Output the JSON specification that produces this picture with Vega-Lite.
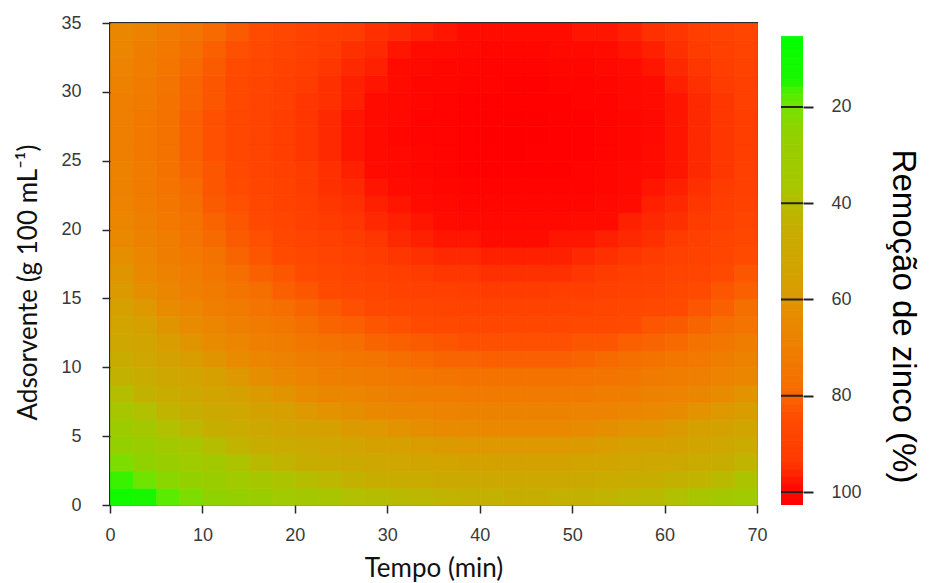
{
  "$schema": "https://vega.github.io/schema/vega-lite/v6.json",
  "background": "white",
  "padding": {"left": 14, "top": 13, "right": 5, "bottom": 5},
  "bounds": "flush",
  "spacing": 24,
  "config": {
    "view": {"stroke": null},
    "axis": {
      "grid": false,
      "domain": false,
      "tickColor": "#2a2a2a",
      "tickWidth": 1.5,
      "labelFont": "Liberation Sans",
      "labelFontSize": 18,
      "labelColor": "#3a3a3a",
      "labelFlush": false,
      "labelOverlap": false,
      "titleFont": "Lato",
      "titleFontSize": 26,
      "titleFontWeight": "normal",
      "titleColor": "#111111"
    }
  },
  "hconcat": [
    {
      "width": 647,
      "height": 482,
      "view": {"stroke": "#2a2a2a", "strokeWidth": 2},
      "data": {"values": [
{"t":0,"a":0,"r":10},{"t":2.5,"a":0,"r":14},{"t":5,"a":0,"r":17},{"t":7.5,"a":0,"r":21},{"t":10,"a":0,"r":24},{"t":12.5,"a":0,"r":27},{"t":15,"a":0,"r":29},{"t":17.5,"a":0,"r":32},{"t":20,"a":0,"r":34},{"t":22.5,"a":0,"r":36},{"t":25,"a":0,"r":38},{"t":27.5,"a":0,"r":39},{"t":30,"a":0,"r":40},{"t":32.5,"a":0,"r":41},{"t":35,"a":0,"r":42},{"t":37.5,"a":0,"r":43},{"t":40,"a":0,"r":43},{"t":42.5,"a":0,"r":44},{"t":45,"a":0,"r":44},{"t":47.5,"a":0,"r":43},{"t":50,"a":0,"r":43},{"t":52.5,"a":0,"r":42},{"t":55,"a":0,"r":41},{"t":57.5,"a":0,"r":40},{"t":60,"a":0,"r":38},{"t":62.5,"a":0,"r":36},{"t":65,"a":0,"r":34},{"t":67.5,"a":0,"r":32},
{"t":0,"a":1.25,"r":15},{"t":2.5,"a":1.25,"r":19},{"t":5,"a":1.25,"r":23},{"t":7.5,"a":1.25,"r":26},{"t":10,"a":1.25,"r":29},{"t":12.5,"a":1.25,"r":32},{"t":15,"a":1.25,"r":35},{"t":17.5,"a":1.25,"r":37},{"t":20,"a":1.25,"r":39},{"t":22.5,"a":1.25,"r":41},{"t":25,"a":1.25,"r":43},{"t":27.5,"a":1.25,"r":45},{"t":30,"a":1.25,"r":46},{"t":32.5,"a":1.25,"r":47},{"t":35,"a":1.25,"r":48},{"t":37.5,"a":1.25,"r":48},{"t":40,"a":1.25,"r":49},{"t":42.5,"a":1.25,"r":49},{"t":45,"a":1.25,"r":49},{"t":47.5,"a":1.25,"r":49},{"t":50,"a":1.25,"r":48},{"t":52.5,"a":1.25,"r":47},{"t":55,"a":1.25,"r":46},{"t":57.5,"a":1.25,"r":45},{"t":60,"a":1.25,"r":43},{"t":62.5,"a":1.25,"r":42},{"t":65,"a":1.25,"r":40},{"t":67.5,"a":1.25,"r":37},
{"t":0,"a":2.5,"r":21},{"t":2.5,"a":2.5,"r":24},{"t":5,"a":2.5,"r":28},{"t":7.5,"a":2.5,"r":31},{"t":10,"a":2.5,"r":34},{"t":12.5,"a":2.5,"r":37},{"t":15,"a":2.5,"r":40},{"t":17.5,"a":2.5,"r":42},{"t":20,"a":2.5,"r":45},{"t":22.5,"a":2.5,"r":47},{"t":25,"a":2.5,"r":48},{"t":27.5,"a":2.5,"r":50},{"t":30,"a":2.5,"r":51},{"t":32.5,"a":2.5,"r":52},{"t":35,"a":2.5,"r":53},{"t":37.5,"a":2.5,"r":54},{"t":40,"a":2.5,"r":54},{"t":42.5,"a":2.5,"r":54},{"t":45,"a":2.5,"r":54},{"t":47.5,"a":2.5,"r":54},{"t":50,"a":2.5,"r":53},{"t":52.5,"a":2.5,"r":53},{"t":55,"a":2.5,"r":51},{"t":57.5,"a":2.5,"r":50},{"t":60,"a":2.5,"r":49},{"t":62.5,"a":2.5,"r":47},{"t":65,"a":2.5,"r":45},{"t":67.5,"a":2.5,"r":42},
{"t":0,"a":3.75,"r":26},{"t":2.5,"a":3.75,"r":29},{"t":5,"a":3.75,"r":33},{"t":7.5,"a":3.75,"r":36},{"t":10,"a":3.75,"r":39},{"t":12.5,"a":3.75,"r":42},{"t":15,"a":3.75,"r":45},{"t":17.5,"a":3.75,"r":47},{"t":20,"a":3.75,"r":49},{"t":22.5,"a":3.75,"r":51},{"t":25,"a":3.75,"r":53},{"t":27.5,"a":3.75,"r":55},{"t":30,"a":3.75,"r":56},{"t":32.5,"a":3.75,"r":57},{"t":35,"a":3.75,"r":58},{"t":37.5,"a":3.75,"r":59},{"t":40,"a":3.75,"r":59},{"t":42.5,"a":3.75,"r":59},{"t":45,"a":3.75,"r":59},{"t":47.5,"a":3.75,"r":59},{"t":50,"a":3.75,"r":58},{"t":52.5,"a":3.75,"r":57},{"t":55,"a":3.75,"r":56},{"t":57.5,"a":3.75,"r":55},{"t":60,"a":3.75,"r":54},{"t":62.5,"a":3.75,"r":52},{"t":65,"a":3.75,"r":50},{"t":67.5,"a":3.75,"r":47},
{"t":0,"a":5,"r":30},{"t":2.5,"a":5,"r":34},{"t":5,"a":5,"r":38},{"t":7.5,"a":5,"r":41},{"t":10,"a":5,"r":44},{"t":12.5,"a":5,"r":47},{"t":15,"a":5,"r":49},{"t":17.5,"a":5,"r":52},{"t":20,"a":5,"r":54},{"t":22.5,"a":5,"r":56},{"t":25,"a":5,"r":58},{"t":27.5,"a":5,"r":59},{"t":30,"a":5,"r":61},{"t":32.5,"a":5,"r":62},{"t":35,"a":5,"r":63},{"t":37.5,"a":5,"r":63},{"t":40,"a":5,"r":64},{"t":42.5,"a":5,"r":64},{"t":45,"a":5,"r":64},{"t":47.5,"a":5,"r":64},{"t":50,"a":5,"r":63},{"t":52.5,"a":5,"r":62},{"t":55,"a":5,"r":61},{"t":57.5,"a":5,"r":60},{"t":60,"a":5,"r":58},{"t":62.5,"a":5,"r":56},{"t":65,"a":5,"r":54},{"t":67.5,"a":5,"r":52},
{"t":0,"a":6.25,"r":35},{"t":2.5,"a":6.25,"r":38},{"t":5,"a":6.25,"r":42},{"t":7.5,"a":6.25,"r":45},{"t":10,"a":6.25,"r":48},{"t":12.5,"a":6.25,"r":51},{"t":15,"a":6.25,"r":54},{"t":17.5,"a":6.25,"r":56},{"t":20,"a":6.25,"r":59},{"t":22.5,"a":6.25,"r":61},{"t":25,"a":6.25,"r":62},{"t":27.5,"a":6.25,"r":64},{"t":30,"a":6.25,"r":65},{"t":32.5,"a":6.25,"r":66},{"t":35,"a":6.25,"r":67},{"t":37.5,"a":6.25,"r":68},{"t":40,"a":6.25,"r":68},{"t":42.5,"a":6.25,"r":68},{"t":45,"a":6.25,"r":68},{"t":47.5,"a":6.25,"r":68},{"t":50,"a":6.25,"r":67},{"t":52.5,"a":6.25,"r":67},{"t":55,"a":6.25,"r":66},{"t":57.5,"a":6.25,"r":64},{"t":60,"a":6.25,"r":63},{"t":62.5,"a":6.25,"r":61},{"t":65,"a":6.25,"r":59},{"t":67.5,"a":6.25,"r":57},
{"t":0,"a":7.5,"r":39},{"t":2.5,"a":7.5,"r":43},{"t":5,"a":7.5,"r":46},{"t":7.5,"a":7.5,"r":49},{"t":10,"a":7.5,"r":53},{"t":12.5,"a":7.5,"r":55},{"t":15,"a":7.5,"r":58},{"t":17.5,"a":7.5,"r":60},{"t":20,"a":7.5,"r":63},{"t":22.5,"a":7.5,"r":65},{"t":25,"a":7.5,"r":66},{"t":27.5,"a":7.5,"r":68},{"t":30,"a":7.5,"r":69},{"t":32.5,"a":7.5,"r":70},{"t":35,"a":7.5,"r":71},{"t":37.5,"a":7.5,"r":72},{"t":40,"a":7.5,"r":72},{"t":42.5,"a":7.5,"r":72},{"t":45,"a":7.5,"r":72},{"t":47.5,"a":7.5,"r":72},{"t":50,"a":7.5,"r":72},{"t":52.5,"a":7.5,"r":71},{"t":55,"a":7.5,"r":70},{"t":57.5,"a":7.5,"r":68},{"t":60,"a":7.5,"r":67},{"t":62.5,"a":7.5,"r":65},{"t":65,"a":7.5,"r":63},{"t":67.5,"a":7.5,"r":61},
{"t":0,"a":8.75,"r":43},{"t":2.5,"a":8.75,"r":46},{"t":5,"a":8.75,"r":50},{"t":7.5,"a":8.75,"r":53},{"t":10,"a":8.75,"r":56},{"t":12.5,"a":8.75,"r":59},{"t":15,"a":8.75,"r":62},{"t":17.5,"a":8.75,"r":64},{"t":20,"a":8.75,"r":67},{"t":22.5,"a":8.75,"r":69},{"t":25,"a":8.75,"r":70},{"t":27.5,"a":8.75,"r":72},{"t":30,"a":8.75,"r":73},{"t":32.5,"a":8.75,"r":74},{"t":35,"a":8.75,"r":75},{"t":37.5,"a":8.75,"r":76},{"t":40,"a":8.75,"r":76},{"t":42.5,"a":8.75,"r":76},{"t":45,"a":8.75,"r":76},{"t":47.5,"a":8.75,"r":76},{"t":50,"a":8.75,"r":75},{"t":52.5,"a":8.75,"r":75},{"t":55,"a":8.75,"r":74},{"t":57.5,"a":8.75,"r":72},{"t":60,"a":8.75,"r":71},{"t":62.5,"a":8.75,"r":69},{"t":65,"a":8.75,"r":67},{"t":67.5,"a":8.75,"r":65},
{"t":0,"a":10,"r":46},{"t":2.5,"a":10,"r":50},{"t":5,"a":10,"r":54},{"t":7.5,"a":10,"r":57},{"t":10,"a":10,"r":60},{"t":12.5,"a":10,"r":63},{"t":15,"a":10,"r":66},{"t":17.5,"a":10,"r":68},{"t":20,"a":10,"r":70},{"t":22.5,"a":10,"r":72},{"t":25,"a":10,"r":74},{"t":27.5,"a":10,"r":75},{"t":30,"a":10,"r":77},{"t":32.5,"a":10,"r":78},{"t":35,"a":10,"r":79},{"t":37.5,"a":10,"r":79},{"t":40,"a":10,"r":80},{"t":42.5,"a":10,"r":80},{"t":45,"a":10,"r":80},{"t":47.5,"a":10,"r":80},{"t":50,"a":10,"r":79},{"t":52.5,"a":10,"r":78},{"t":55,"a":10,"r":77},{"t":57.5,"a":10,"r":76},{"t":60,"a":10,"r":74},{"t":62.5,"a":10,"r":73},{"t":65,"a":10,"r":70},{"t":67.5,"a":10,"r":68},
{"t":0,"a":11.25,"r":50},{"t":2.5,"a":11.25,"r":53},{"t":5,"a":11.25,"r":57},{"t":7.5,"a":11.25,"r":60},{"t":10,"a":11.25,"r":63},{"t":12.5,"a":11.25,"r":66},{"t":15,"a":11.25,"r":69},{"t":17.5,"a":11.25,"r":71},{"t":20,"a":11.25,"r":74},{"t":22.5,"a":11.25,"r":76},{"t":25,"a":11.25,"r":77},{"t":27.5,"a":11.25,"r":79},{"t":30,"a":11.25,"r":80},{"t":32.5,"a":11.25,"r":81},{"t":35,"a":11.25,"r":82},{"t":37.5,"a":11.25,"r":83},{"t":40,"a":11.25,"r":83},{"t":42.5,"a":11.25,"r":83},{"t":45,"a":11.25,"r":83},{"t":47.5,"a":11.25,"r":83},{"t":50,"a":11.25,"r":82},{"t":52.5,"a":11.25,"r":82},{"t":55,"a":11.25,"r":80},{"t":57.5,"a":11.25,"r":79},{"t":60,"a":11.25,"r":78},{"t":62.5,"a":11.25,"r":76},{"t":65,"a":11.25,"r":74},{"t":67.5,"a":11.25,"r":71},
{"t":0,"a":12.5,"r":53},{"t":2.5,"a":12.5,"r":56},{"t":5,"a":12.5,"r":60},{"t":7.5,"a":12.5,"r":63},{"t":10,"a":12.5,"r":66},{"t":12.5,"a":12.5,"r":69},{"t":15,"a":12.5,"r":72},{"t":17.5,"a":12.5,"r":74},{"t":20,"a":12.5,"r":77},{"t":22.5,"a":12.5,"r":79},{"t":25,"a":12.5,"r":80},{"t":27.5,"a":12.5,"r":82},{"t":30,"a":12.5,"r":83},{"t":32.5,"a":12.5,"r":84},{"t":35,"a":12.5,"r":85},{"t":37.5,"a":12.5,"r":86},{"t":40,"a":12.5,"r":86},{"t":42.5,"a":12.5,"r":86},{"t":45,"a":12.5,"r":86},{"t":47.5,"a":12.5,"r":86},{"t":50,"a":12.5,"r":85},{"t":52.5,"a":12.5,"r":85},{"t":55,"a":12.5,"r":84},{"t":57.5,"a":12.5,"r":82},{"t":60,"a":12.5,"r":81},{"t":62.5,"a":12.5,"r":79},{"t":65,"a":12.5,"r":77},{"t":67.5,"a":12.5,"r":75},
{"t":0,"a":13.75,"r":55},{"t":2.5,"a":13.75,"r":59},{"t":5,"a":13.75,"r":63},{"t":7.5,"a":13.75,"r":66},{"t":10,"a":13.75,"r":69},{"t":12.5,"a":13.75,"r":72},{"t":15,"a":13.75,"r":75},{"t":17.5,"a":13.75,"r":77},{"t":20,"a":13.75,"r":79},{"t":22.5,"a":13.75,"r":81},{"t":25,"a":13.75,"r":83},{"t":27.5,"a":13.75,"r":85},{"t":30,"a":13.75,"r":86},{"t":32.5,"a":13.75,"r":87},{"t":35,"a":13.75,"r":88},{"t":37.5,"a":13.75,"r":89},{"t":40,"a":13.75,"r":89},{"t":42.5,"a":13.75,"r":89},{"t":45,"a":13.75,"r":89},{"t":47.5,"a":13.75,"r":89},{"t":50,"a":13.75,"r":88},{"t":52.5,"a":13.75,"r":87},{"t":55,"a":13.75,"r":86},{"t":57.5,"a":13.75,"r":85},{"t":60,"a":13.75,"r":84},{"t":62.5,"a":13.75,"r":82},{"t":65,"a":13.75,"r":80},{"t":67.5,"a":13.75,"r":77},
{"t":0,"a":15,"r":58},{"t":2.5,"a":15,"r":62},{"t":5,"a":15,"r":65},{"t":7.5,"a":15,"r":69},{"t":10,"a":15,"r":72},{"t":12.5,"a":15,"r":75},{"t":15,"a":15,"r":77},{"t":17.5,"a":15,"r":80},{"t":20,"a":15,"r":82},{"t":22.5,"a":15,"r":84},{"t":25,"a":15,"r":86},{"t":27.5,"a":15,"r":87},{"t":30,"a":15,"r":89},{"t":32.5,"a":15,"r":90},{"t":35,"a":15,"r":90},{"t":37.5,"a":15,"r":91},{"t":40,"a":15,"r":92},{"t":42.5,"a":15,"r":92},{"t":45,"a":15,"r":92},{"t":47.5,"a":15,"r":91},{"t":50,"a":15,"r":91},{"t":52.5,"a":15,"r":90},{"t":55,"a":15,"r":89},{"t":57.5,"a":15,"r":88},{"t":60,"a":15,"r":86},{"t":62.5,"a":15,"r":84},{"t":65,"a":15,"r":82},{"t":67.5,"a":15,"r":80},
{"t":0,"a":16.25,"r":60},{"t":2.5,"a":16.25,"r":64},{"t":5,"a":16.25,"r":68},{"t":7.5,"a":16.25,"r":71},{"t":10,"a":16.25,"r":74},{"t":12.5,"a":16.25,"r":77},{"t":15,"a":16.25,"r":80},{"t":17.5,"a":16.25,"r":82},{"t":20,"a":16.25,"r":84},{"t":22.5,"a":16.25,"r":86},{"t":25,"a":16.25,"r":88},{"t":27.5,"a":16.25,"r":90},{"t":30,"a":16.25,"r":91},{"t":32.5,"a":16.25,"r":92},{"t":35,"a":16.25,"r":93},{"t":37.5,"a":16.25,"r":93},{"t":40,"a":16.25,"r":94},{"t":42.5,"a":16.25,"r":94},{"t":45,"a":16.25,"r":94},{"t":47.5,"a":16.25,"r":94},{"t":50,"a":16.25,"r":93},{"t":52.5,"a":16.25,"r":92},{"t":55,"a":16.25,"r":91},{"t":57.5,"a":16.25,"r":90},{"t":60,"a":16.25,"r":88},{"t":62.5,"a":16.25,"r":87},{"t":65,"a":16.25,"r":85},{"t":67.5,"a":16.25,"r":82},
{"t":0,"a":17.5,"r":62},{"t":2.5,"a":17.5,"r":66},{"t":5,"a":17.5,"r":70},{"t":7.5,"a":17.5,"r":73},{"t":10,"a":17.5,"r":76},{"t":12.5,"a":17.5,"r":79},{"t":15,"a":17.5,"r":82},{"t":17.5,"a":17.5,"r":84},{"t":20,"a":17.5,"r":86},{"t":22.5,"a":17.5,"r":88},{"t":25,"a":17.5,"r":90},{"t":27.5,"a":17.5,"r":92},{"t":30,"a":17.5,"r":93},{"t":32.5,"a":17.5,"r":94},{"t":35,"a":17.5,"r":95},{"t":37.5,"a":17.5,"r":95},{"t":40,"a":17.5,"r":96},{"t":42.5,"a":17.5,"r":96},{"t":45,"a":17.5,"r":96},{"t":47.5,"a":17.5,"r":96},{"t":50,"a":17.5,"r":95},{"t":52.5,"a":17.5,"r":94},{"t":55,"a":17.5,"r":93},{"t":57.5,"a":17.5,"r":92},{"t":60,"a":17.5,"r":90},{"t":62.5,"a":17.5,"r":89},{"t":65,"a":17.5,"r":87},{"t":67.5,"a":17.5,"r":84},
{"t":0,"a":18.75,"r":64},{"t":2.5,"a":18.75,"r":68},{"t":5,"a":18.75,"r":71},{"t":7.5,"a":18.75,"r":75},{"t":10,"a":18.75,"r":78},{"t":12.5,"a":18.75,"r":81},{"t":15,"a":18.75,"r":83},{"t":17.5,"a":18.75,"r":86},{"t":20,"a":18.75,"r":88},{"t":22.5,"a":18.75,"r":90},{"t":25,"a":18.75,"r":92},{"t":27.5,"a":18.75,"r":93},{"t":30,"a":18.75,"r":95},{"t":32.5,"a":18.75,"r":96},{"t":35,"a":18.75,"r":97},{"t":37.5,"a":18.75,"r":97},{"t":40,"a":18.75,"r":98},{"t":42.5,"a":18.75,"r":98},{"t":45,"a":18.75,"r":98},{"t":47.5,"a":18.75,"r":97},{"t":50,"a":18.75,"r":97},{"t":52.5,"a":18.75,"r":96},{"t":55,"a":18.75,"r":95},{"t":57.5,"a":18.75,"r":94},{"t":60,"a":18.75,"r":92},{"t":62.5,"a":18.75,"r":90},{"t":65,"a":18.75,"r":88},{"t":67.5,"a":18.75,"r":86},
{"t":0,"a":20,"r":66},{"t":2.5,"a":20,"r":69},{"t":5,"a":20,"r":73},{"t":7.5,"a":20,"r":76},{"t":10,"a":20,"r":79},{"t":12.5,"a":20,"r":82},{"t":15,"a":20,"r":85},{"t":17.5,"a":20,"r":87},{"t":20,"a":20,"r":90},{"t":22.5,"a":20,"r":92},{"t":25,"a":20,"r":93},{"t":27.5,"a":20,"r":95},{"t":30,"a":20,"r":96},{"t":32.5,"a":20,"r":97},{"t":35,"a":20,"r":98},{"t":37.5,"a":20,"r":99},{"t":40,"a":20,"r":99},{"t":42.5,"a":20,"r":99},{"t":45,"a":20,"r":99},{"t":47.5,"a":20,"r":99},{"t":50,"a":20,"r":98},{"t":52.5,"a":20,"r":98},{"t":55,"a":20,"r":96},{"t":57.5,"a":20,"r":95},{"t":60,"a":20,"r":94},{"t":62.5,"a":20,"r":92},{"t":65,"a":20,"r":90},{"t":67.5,"a":20,"r":87},
{"t":0,"a":21.25,"r":67},{"t":2.5,"a":21.25,"r":71},{"t":5,"a":21.25,"r":74},{"t":7.5,"a":21.25,"r":77},{"t":10,"a":21.25,"r":81},{"t":12.5,"a":21.25,"r":83},{"t":15,"a":21.25,"r":86},{"t":17.5,"a":21.25,"r":89},{"t":20,"a":21.25,"r":91},{"t":22.5,"a":21.25,"r":93},{"t":25,"a":21.25,"r":94},{"t":27.5,"a":21.25,"r":96},{"t":30,"a":21.25,"r":97},{"t":32.5,"a":21.25,"r":98},{"t":35,"a":21.25,"r":99},{"t":37.5,"a":21.25,"r":100},{"t":40,"a":21.25,"r":100},{"t":42.5,"a":21.25,"r":100},{"t":45,"a":21.25,"r":100},{"t":47.5,"a":21.25,"r":100},{"t":50,"a":21.25,"r":100},{"t":52.5,"a":21.25,"r":99},{"t":55,"a":21.25,"r":98},{"t":57.5,"a":21.25,"r":96},{"t":60,"a":21.25,"r":95},{"t":62.5,"a":21.25,"r":93},{"t":65,"a":21.25,"r":91},{"t":67.5,"a":21.25,"r":89},
{"t":0,"a":22.5,"r":68},{"t":2.5,"a":22.5,"r":72},{"t":5,"a":22.5,"r":75},{"t":7.5,"a":22.5,"r":78},{"t":10,"a":22.5,"r":82},{"t":12.5,"a":22.5,"r":84},{"t":15,"a":22.5,"r":87},{"t":17.5,"a":22.5,"r":89},{"t":20,"a":22.5,"r":92},{"t":22.5,"a":22.5,"r":94},{"t":25,"a":22.5,"r":95},{"t":27.5,"a":22.5,"r":97},{"t":30,"a":22.5,"r":98},{"t":32.5,"a":22.5,"r":99},{"t":35,"a":22.5,"r":100},{"t":37.5,"a":22.5,"r":101},{"t":40,"a":22.5,"r":101},{"t":42.5,"a":22.5,"r":101},{"t":45,"a":22.5,"r":101},{"t":47.5,"a":22.5,"r":101},{"t":50,"a":22.5,"r":101},{"t":52.5,"a":22.5,"r":100},{"t":55,"a":22.5,"r":99},{"t":57.5,"a":22.5,"r":97},{"t":60,"a":22.5,"r":96},{"t":62.5,"a":22.5,"r":94},{"t":65,"a":22.5,"r":92},{"t":67.5,"a":22.5,"r":90},
{"t":0,"a":23.75,"r":68},{"t":2.5,"a":23.75,"r":72},{"t":5,"a":23.75,"r":76},{"t":7.5,"a":23.75,"r":79},{"t":10,"a":23.75,"r":82},{"t":12.5,"a":23.75,"r":85},{"t":15,"a":23.75,"r":88},{"t":17.5,"a":23.75,"r":90},{"t":20,"a":23.75,"r":92},{"t":22.5,"a":23.75,"r":94},{"t":25,"a":23.75,"r":96},{"t":27.5,"a":23.75,"r":98},{"t":30,"a":23.75,"r":99},{"t":32.5,"a":23.75,"r":100},{"t":35,"a":23.75,"r":101},{"t":37.5,"a":23.75,"r":102},{"t":40,"a":23.75,"r":102},{"t":42.5,"a":23.75,"r":102},{"t":45,"a":23.75,"r":102},{"t":47.5,"a":23.75,"r":102},{"t":50,"a":23.75,"r":101},{"t":52.5,"a":23.75,"r":100},{"t":55,"a":23.75,"r":99},{"t":57.5,"a":23.75,"r":98},{"t":60,"a":23.75,"r":97},{"t":62.5,"a":23.75,"r":95},{"t":65,"a":23.75,"r":93},{"t":67.5,"a":23.75,"r":90},
{"t":0,"a":25,"r":69},{"t":2.5,"a":25,"r":73},{"t":5,"a":25,"r":76},{"t":7.5,"a":25,"r":80},{"t":10,"a":25,"r":83},{"t":12.5,"a":25,"r":86},{"t":15,"a":25,"r":88},{"t":17.5,"a":25,"r":91},{"t":20,"a":25,"r":93},{"t":22.5,"a":25,"r":95},{"t":25,"a":25,"r":97},{"t":27.5,"a":25,"r":98},{"t":30,"a":25,"r":99},{"t":32.5,"a":25,"r":100},{"t":35,"a":25,"r":101},{"t":37.5,"a":25,"r":102},{"t":40,"a":25,"r":102},{"t":42.5,"a":25,"r":103},{"t":45,"a":25,"r":102},{"t":47.5,"a":25,"r":102},{"t":50,"a":25,"r":102},{"t":52.5,"a":25,"r":101},{"t":55,"a":25,"r":100},{"t":57.5,"a":25,"r":98},{"t":60,"a":25,"r":97},{"t":62.5,"a":25,"r":95},{"t":65,"a":25,"r":93},{"t":67.5,"a":25,"r":91},
{"t":0,"a":26.25,"r":69},{"t":2.5,"a":26.25,"r":73},{"t":5,"a":26.25,"r":76},{"t":7.5,"a":26.25,"r":80},{"t":10,"a":26.25,"r":83},{"t":12.5,"a":26.25,"r":86},{"t":15,"a":26.25,"r":88},{"t":17.5,"a":26.25,"r":91},{"t":20,"a":26.25,"r":93},{"t":22.5,"a":26.25,"r":95},{"t":25,"a":26.25,"r":97},{"t":27.5,"a":26.25,"r":98},{"t":30,"a":26.25,"r":100},{"t":32.5,"a":26.25,"r":101},{"t":35,"a":26.25,"r":101},{"t":37.5,"a":26.25,"r":102},{"t":40,"a":26.25,"r":103},{"t":42.5,"a":26.25,"r":103},{"t":45,"a":26.25,"r":103},{"t":47.5,"a":26.25,"r":102},{"t":50,"a":26.25,"r":102},{"t":52.5,"a":26.25,"r":101},{"t":55,"a":26.25,"r":100},{"t":57.5,"a":26.25,"r":99},{"t":60,"a":26.25,"r":97},{"t":62.5,"a":26.25,"r":95},{"t":65,"a":26.25,"r":93},{"t":67.5,"a":26.25,"r":91},
{"t":0,"a":27.5,"r":69},{"t":2.5,"a":27.5,"r":73},{"t":5,"a":27.5,"r":76},{"t":7.5,"a":27.5,"r":80},{"t":10,"a":27.5,"r":83},{"t":12.5,"a":27.5,"r":86},{"t":15,"a":27.5,"r":88},{"t":17.5,"a":27.5,"r":91},{"t":20,"a":27.5,"r":93},{"t":22.5,"a":27.5,"r":95},{"t":25,"a":27.5,"r":97},{"t":27.5,"a":27.5,"r":98},{"t":30,"a":27.5,"r":99},{"t":32.5,"a":27.5,"r":101},{"t":35,"a":27.5,"r":101},{"t":37.5,"a":27.5,"r":102},{"t":40,"a":27.5,"r":102},{"t":42.5,"a":27.5,"r":103},{"t":45,"a":27.5,"r":103},{"t":47.5,"a":27.5,"r":102},{"t":50,"a":27.5,"r":102},{"t":52.5,"a":27.5,"r":101},{"t":55,"a":27.5,"r":100},{"t":57.5,"a":27.5,"r":99},{"t":60,"a":27.5,"r":97},{"t":62.5,"a":27.5,"r":95},{"t":65,"a":27.5,"r":93},{"t":67.5,"a":27.5,"r":91},
{"t":0,"a":28.75,"r":69},{"t":2.5,"a":28.75,"r":72},{"t":5,"a":28.75,"r":76},{"t":7.5,"a":28.75,"r":79},{"t":10,"a":28.75,"r":82},{"t":12.5,"a":28.75,"r":85},{"t":15,"a":28.75,"r":88},{"t":17.5,"a":28.75,"r":90},{"t":20,"a":28.75,"r":93},{"t":22.5,"a":28.75,"r":94},{"t":25,"a":28.75,"r":96},{"t":27.5,"a":28.75,"r":98},{"t":30,"a":28.75,"r":99},{"t":32.5,"a":28.75,"r":100},{"t":35,"a":28.75,"r":101},{"t":37.5,"a":28.75,"r":102},{"t":40,"a":28.75,"r":102},{"t":42.5,"a":28.75,"r":102},{"t":45,"a":28.75,"r":102},{"t":47.5,"a":28.75,"r":102},{"t":50,"a":28.75,"r":101},{"t":52.5,"a":28.75,"r":101},{"t":55,"a":28.75,"r":99},{"t":57.5,"a":28.75,"r":98},{"t":60,"a":28.75,"r":97},{"t":62.5,"a":28.75,"r":95},{"t":65,"a":28.75,"r":93},{"t":67.5,"a":28.75,"r":90},
{"t":0,"a":30,"r":68},{"t":2.5,"a":30,"r":72},{"t":5,"a":30,"r":75},{"t":7.5,"a":30,"r":79},{"t":10,"a":30,"r":82},{"t":12.5,"a":30,"r":85},{"t":15,"a":30,"r":87},{"t":17.5,"a":30,"r":90},{"t":20,"a":30,"r":92},{"t":22.5,"a":30,"r":94},{"t":25,"a":30,"r":96},{"t":27.5,"a":30,"r":97},{"t":30,"a":30,"r":98},{"t":32.5,"a":30,"r":100},{"t":35,"a":30,"r":100},{"t":37.5,"a":30,"r":101},{"t":40,"a":30,"r":101},{"t":42.5,"a":30,"r":102},{"t":45,"a":30,"r":102},{"t":47.5,"a":30,"r":101},{"t":50,"a":30,"r":101},{"t":52.5,"a":30,"r":100},{"t":55,"a":30,"r":99},{"t":57.5,"a":30,"r":98},{"t":60,"a":30,"r":96},{"t":62.5,"a":30,"r":94},{"t":65,"a":30,"r":92},{"t":67.5,"a":30,"r":90},
{"t":0,"a":31.25,"r":67},{"t":2.5,"a":31.25,"r":71},{"t":5,"a":31.25,"r":74},{"t":7.5,"a":31.25,"r":78},{"t":10,"a":31.25,"r":81},{"t":12.5,"a":31.25,"r":84},{"t":15,"a":31.25,"r":86},{"t":17.5,"a":31.25,"r":89},{"t":20,"a":31.25,"r":91},{"t":22.5,"a":31.25,"r":93},{"t":25,"a":31.25,"r":95},{"t":27.5,"a":31.25,"r":96},{"t":30,"a":31.25,"r":98},{"t":32.5,"a":31.25,"r":99},{"t":35,"a":31.25,"r":100},{"t":37.5,"a":31.25,"r":100},{"t":40,"a":31.25,"r":101},{"t":42.5,"a":31.25,"r":101},{"t":45,"a":31.25,"r":101},{"t":47.5,"a":31.25,"r":100},{"t":50,"a":31.25,"r":100},{"t":52.5,"a":31.25,"r":99},{"t":55,"a":31.25,"r":98},{"t":57.5,"a":31.25,"r":97},{"t":60,"a":31.25,"r":95},{"t":62.5,"a":31.25,"r":93},{"t":65,"a":31.25,"r":91},{"t":67.5,"a":31.25,"r":89},
{"t":0,"a":32.5,"r":66},{"t":2.5,"a":32.5,"r":70},{"t":5,"a":32.5,"r":73},{"t":7.5,"a":32.5,"r":77},{"t":10,"a":32.5,"r":80},{"t":12.5,"a":32.5,"r":83},{"t":15,"a":32.5,"r":85},{"t":17.5,"a":32.5,"r":88},{"t":20,"a":32.5,"r":90},{"t":22.5,"a":32.5,"r":92},{"t":25,"a":32.5,"r":94},{"t":27.5,"a":32.5,"r":95},{"t":30,"a":32.5,"r":97},{"t":32.5,"a":32.5,"r":98},{"t":35,"a":32.5,"r":98},{"t":37.5,"a":32.5,"r":99},{"t":40,"a":32.5,"r":100},{"t":42.5,"a":32.5,"r":100},{"t":45,"a":32.5,"r":100},{"t":47.5,"a":32.5,"r":99},{"t":50,"a":32.5,"r":99},{"t":52.5,"a":32.5,"r":98},{"t":55,"a":32.5,"r":97},{"t":57.5,"a":32.5,"r":96},{"t":60,"a":32.5,"r":94},{"t":62.5,"a":32.5,"r":92},{"t":65,"a":32.5,"r":90},{"t":67.5,"a":32.5,"r":88},
{"t":0,"a":33.75,"r":65},{"t":2.5,"a":33.75,"r":68},{"t":5,"a":33.75,"r":72},{"t":7.5,"a":33.75,"r":75},{"t":10,"a":33.75,"r":78},{"t":12.5,"a":33.75,"r":81},{"t":15,"a":33.75,"r":84},{"t":17.5,"a":33.75,"r":86},{"t":20,"a":33.75,"r":89},{"t":22.5,"a":33.75,"r":91},{"t":25,"a":33.75,"r":92},{"t":27.5,"a":33.75,"r":94},{"t":30,"a":33.75,"r":95},{"t":32.5,"a":33.75,"r":96},{"t":35,"a":33.75,"r":97},{"t":37.5,"a":33.75,"r":98},{"t":40,"a":33.75,"r":98},{"t":42.5,"a":33.75,"r":98},{"t":45,"a":33.75,"r":98},{"t":47.5,"a":33.75,"r":98},{"t":50,"a":33.75,"r":97},{"t":52.5,"a":33.75,"r":97},{"t":55,"a":33.75,"r":96},{"t":57.5,"a":33.75,"r":94},{"t":60,"a":33.75,"r":93},{"t":62.5,"a":33.75,"r":91},{"t":65,"a":33.75,"r":89},{"t":67.5,"a":33.75,"r":87}
      ]},
      "mark": {"type": "rect", "binSpacing": 0, "strokeWidth": 0.8},
      "encoding": {
        "x": {
          "field": "t", "type": "quantitative",
          "bin": {"binned": true, "step": 2.5},
          "scale": {"domain": [0, 70], "nice": false, "zero": false},
          "axis": {"title": "Tempo (min)", "values": [0, 10, 20, 30, 40, 50, 60, 70], "tickSize": 8, "labelPadding": 13, "titlePadding": 11, "format": "d"}
        },
        "y": {
          "field": "a", "type": "quantitative",
          "bin": {"binned": true, "step": 1.25},
          "scale": {"domain": [0, 35], "nice": false, "zero": false},
          "axis": {"title": "Adsorvente (g 100 mL⁻¹)", "values": [0, 5, 10, 15, 20, 25, 30, 35], "tickSize": 8, "labelPadding": 21, "titlePadding": 19, "titleY": 259, "format": "d"}
        },
        "color": {
          "field": "r", "type": "quantitative",
          "scale": {
            "domain": [5, 14, 24, 36, 44, 56, 64, 76, 84, 92, 97.5, 103],
            "range": ["#00ff00", "#18f600", "#8fd200", "#a8c600", "#c6ae00", "#d6a000", "#ea8800", "#f47200", "#ff4a00", "#ff3c00", "#ff0c00", "#ff0000"]
          },
          "legend": null
        },
        "stroke": {
          "field": "r", "type": "quantitative",
          "scale": {
            "domain": [5, 14, 24, 36, 44, 56, 64, 76, 84, 92, 97.5, 103],
            "range": ["#00ff00", "#18f600", "#8fd200", "#a8c600", "#c6ae00", "#d6a000", "#ea8800", "#f47200", "#ff4a00", "#ff3c00", "#ff0c00", "#ff0000"]
          },
          "legend": null
        }
      }
    },
    {
      "width": 22,
      "height": 482,
      "layer": [
        {
          "data": {"values": [
{"v":5.25},{"v":6.75},{"v":8.25},{"v":9.75},{"v":11.25},{"v":12.75},{"v":14.25},{"v":15.75},{"v":17.25},{"v":18.75},{"v":20.25},{"v":21.75},{"v":23.25},{"v":24.75},{"v":26.25},{"v":27.75},{"v":29.25},{"v":30.75},{"v":32.25},{"v":33.75},{"v":35.25},{"v":36.75},{"v":38.25},{"v":39.75},{"v":41.25},{"v":42.75},{"v":44.25},{"v":45.75},{"v":47.25},{"v":48.75},{"v":50.25},{"v":51.75},{"v":53.25},{"v":54.75},{"v":56.25},{"v":57.75},{"v":59.25},{"v":60.75},{"v":62.25},{"v":63.75},{"v":65.25},{"v":66.75},{"v":68.25},{"v":69.75},{"v":71.25},{"v":72.75},{"v":74.25},{"v":75.75},{"v":77.25},{"v":78.75},{"v":80.25},{"v":81.75},{"v":83.25},{"v":84.75},{"v":86.25},{"v":87.75},{"v":89.25},{"v":90.75},{"v":92.25},{"v":93.75},{"v":95.25},{"v":96.75},{"v":98.25},{"v":99.75},{"v":101.25}
          ]},
          "mark": {"type": "rect", "clip": true, "binSpacing": 0, "strokeWidth": 0.8},
          "encoding": {
            "y": {
              "field": "v", "type": "quantitative",
              "bin": {"binned": true, "step": 1.5},
              "scale": {"domain": [2.55, 102.7], "reverse": true, "nice": false, "zero": false},
              "axis": {
                "orient": "right", "title": "Remoção de zinco (%)", "values": [20, 40, 60, 80, 100], "format": "d",
                "tickSize": 10, "tickWidth": 2, "tickColor": "#222222", "labelPadding": 18,
                "titleFont": "Liberation Sans", "titleFontSize": 33, "titleColor": "#000000", "titlePadding": 24, "titleY": 293
              }
            },
            "color": {
              "field": "v", "type": "quantitative",
              "scale": {
                "domain": [5, 14, 24, 36, 44, 56, 64, 76, 84, 92, 97.5, 103],
                "range": ["#00ff00", "#18f600", "#8fd200", "#a8c600", "#c6ae00", "#d6a000", "#ea8800", "#f47200", "#ff4a00", "#ff3c00", "#ff0c00", "#ff0000"]
              },
              "legend": null
            },
            "stroke": {
              "field": "v", "type": "quantitative",
              "scale": {
                "domain": [5, 14, 24, 36, 44, 56, 64, 76, 84, 92, 97.5, 103],
                "range": ["#00ff00", "#18f600", "#8fd200", "#a8c600", "#c6ae00", "#d6a000", "#ea8800", "#f47200", "#ff4a00", "#ff3c00", "#ff0c00", "#ff0000"]
              },
              "legend": null
            }
          }
        },
        {
          "data": {"values": [{"v": 20}, {"v": 40}, {"v": 60}, {"v": 80}, {"v": 100}]},
          "mark": {"type": "rule", "color": "#222222", "strokeWidth": 2},
          "encoding": {
            "y": {"field": "v", "type": "quantitative"}
          }
        }
      ]
    }
  ]
}
